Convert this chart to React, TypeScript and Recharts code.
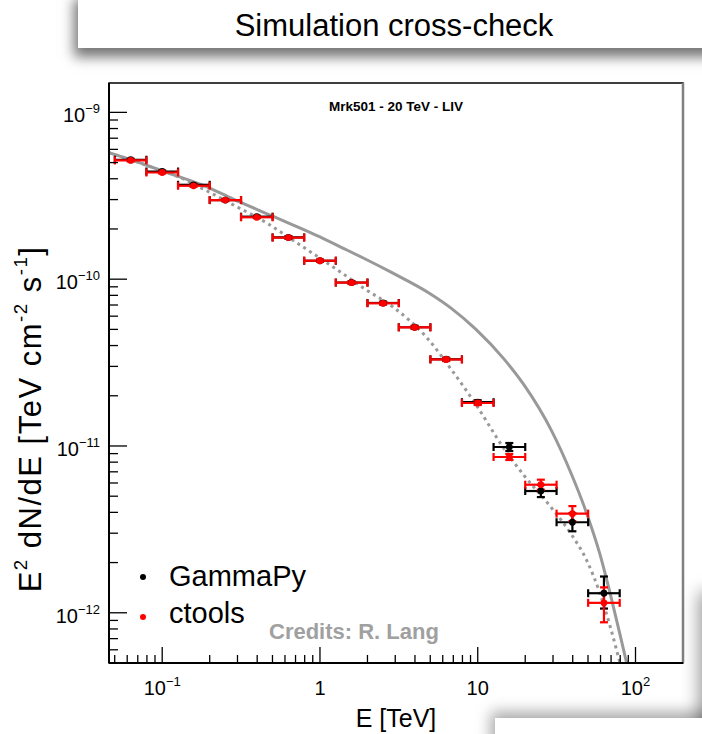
import React from 'react';
import {
  ComposedChart,
  XAxis,
  YAxis,
  Line,
  Scatter,
  ErrorBar,
  ReferenceArea,
  ReferenceLine,
} from 'recharts';

const FONT = '"Liberation Sans", Arial, Helvetica, sans-serif';

// energy bins (TeV): centres and edges
const energy = [0.0631, 0.1, 0.158, 0.251, 0.398, 0.631, 1.0, 1.585, 2.512, 3.981, 6.31, 10.0, 15.85, 25.12, 39.81, 63.1];
const binEdges = [0.0501, 0.0794, 0.126, 0.2, 0.316, 0.501, 0.794, 1.26, 2.0, 3.16, 5.01, 7.94, 12.6, 20.0, 31.6, 50.1, 79.4];

// GammaPy flux points (E^2 dN/dE) with lower / upper error ends
const gpFlux = [5.2e-10, 4.42e-10, 3.68e-10, 2.98e-10, 2.37e-10, 1.78e-10, 1.29e-10, 9.55e-11, 7.2e-11, 5.15e-11, 3.31e-11, 1.83e-11, 9.86e-12, 5.37e-12, 3.49e-12, 1.31e-12];
const gpLo = [5.13e-10, 4.36e-10, 3.63e-10, 2.94e-10, 2.34e-10, 1.75e-10, 1.27e-10, 9.4e-11, 7.07e-11, 5.05e-11, 3.24e-11, 1.78e-11, 9.33e-12, 4.94e-12, 3.08e-12, 1.06e-12];
const gpHi = [5.27e-10, 4.48e-10, 3.73e-10, 3.02e-10, 2.4e-10, 1.81e-10, 1.31e-10, 9.7e-11, 7.33e-11, 5.25e-11, 3.38e-11, 1.88e-11, 1.042e-11, 5.84e-12, 3.95e-12, 1.65e-12];

// ctools flux points
const ctFlux = [5.15e-10, 4.36e-10, 3.63e-10, 2.98e-10, 2.35e-10, 1.775e-10, 1.29e-10, 9.53e-11, 7.17e-11, 5.14e-11, 3.3e-11, 1.81e-11, 8.59e-12, 5.86e-12, 3.93e-12, 1.147e-12];
const ctLo = [5.08e-10, 4.3e-10, 3.58e-10, 2.94e-10, 2.32e-10, 1.75e-10, 1.27e-10, 9.38e-11, 7.04e-11, 5.04e-11, 3.23e-11, 1.76e-11, 8.24e-12, 5.47e-12, 3.54e-12, 8.77e-13];
const ctHi = [5.22e-10, 4.42e-10, 3.68e-10, 3.02e-10, 2.38e-10, 1.8e-10, 1.31e-10, 9.68e-11, 7.3e-11, 5.24e-11, 3.37e-11, 1.86e-11, 8.95e-12, 6.28e-12, 4.36e-12, 1.42e-12];

// model curves: solid (no LIV) and dotted (LIV)
const solidE = [0.046, 0.065, 0.093, 0.14, 0.19, 0.28, 0.47, 0.66, 0.95, 1.43, 1.91, 2.88, 4.82, 6.77, 9.71, 14.6, 19.6, 29.4, 39.4, 49.3, 59.3, 69.3, 79.3, 87.9];
const solidF = [5.73e-10, 5.15e-10, 4.57e-10, 3.99e-10, 3.59e-10, 3.03e-10, 2.45e-10, 2.13e-10, 1.83e-10, 1.52e-10, 1.33e-10, 1.09e-10, 8.35e-11, 6.71e-11, 5.02e-11, 3.34e-11, 2.33e-11, 1.232e-11, 6.72e-12, 3.89e-12, 2.27e-12, 1.29e-12, 7.57e-13, 5.0e-13];
const dottedE = [0.046, 0.065, 0.093, 0.14, 0.19, 0.28, 0.47, 0.66, 0.95, 1.43, 1.91, 2.88, 4.82, 6.77, 9.71, 14.6, 19.6, 29.4, 39.4, 49.3, 59.3, 69.3, 79.7];
const dottedF = [5.73e-10, 5.15e-10, 4.57e-10, 3.94e-10, 3.4e-10, 2.8e-10, 2.145e-10, 1.734e-10, 1.38e-10, 1.063e-10, 8.78e-11, 6.85e-11, 4.4e-11, 2.89e-11, 1.78e-11, 9.7e-12, 6.68e-12, 4.25e-12, 2.93e-12, 2.04e-12, 1.32e-12, 8.19e-13, 5.0e-13];

// axes
const xDomain = [0.046, 200];
const yDomain = [5e-13, 1.5e-9];
const mantissas = [1, 2, 3, 4, 5, 6, 7, 8, 9];
const xDecades = [0.01, 0.1, 1, 10, 100];
const yDecades = [1e-13, 1e-12, 1e-11, 1e-10, 1e-9];
const xMajor = [0.1, 1, 10, 100];
const xMajorLabels = [['10', '\u22121'], ['1', ''], ['10', ''], ['10', '2']];
const yMajor = [1e-12, 1e-11, 1e-10, 1e-9];
const yMajorLabels = [['10', '\u221212'], ['10', '\u221211'], ['10', '\u221210'], ['10', '\u22129']];

const inside = (v: number, d: number[]) => v > d[0] * 1.001 && v < d[1] * 0.999;
const xTicks = xDecades.flatMap(d => mantissas.map(m => m * d)).filter(v => inside(v, xDomain));
const yTicks = yDecades.flatMap(d => mantissas.map(m => m * d)).filter(v => inside(v, yDomain));

const findMajor = (list: number[], v: number) => list.findIndex(m => Math.abs(m - v) / m < 1e-6);

const gammapyData = energy.map((e, i) => ({
  e,
  f: gpFlux[i],
  xErr: [e - binEdges[i], binEdges[i + 1] - e],
  yErr: [gpFlux[i] - gpLo[i], gpHi[i] - gpFlux[i]],
}));
const ctoolsData = energy.map((e, i) => ({
  e,
  f: ctFlux[i],
  xErr: [e - binEdges[i], binEdges[i + 1] - e],
  yErr: [ctFlux[i] - ctLo[i], ctHi[i] - ctFlux[i]],
}));
const solidCurve = solidE.map((e, i) => ({ e, f: solidF[i] }));
const dottedCurve = dottedE.map((e, i) => ({ e, f: dottedF[i] }));

const renderXTick = (p: any) => {
  const { x, y, payload } = p;
  const idx = findMajor(xMajor, payload.value);
  const len = idx >= 0 ? 16 : 8;
  return (
    <g>
      <line x1={x} x2={x} y1={y} y2={y - len} stroke="#000" strokeWidth={1.3} />
      {idx >= 0 && (
        <text x={x} y={y + 32} textAnchor="middle" fontSize={20} fontFamily={FONT} fill="#000">
          {xMajorLabels[idx][0]}
          {xMajorLabels[idx][1] && (
            <tspan dy={-9} fontSize={13}>{xMajorLabels[idx][1]}</tspan>
          )}
        </text>
      )}
    </g>
  );
};

const renderYTick = (p: any) => {
  const { x, y, payload } = p;
  const idx = findMajor(yMajor, payload.value);
  const len = idx >= 0 ? 18 : 9;
  return (
    <g>
      <line x1={x} x2={x + len} y1={y} y2={y} stroke="#000" strokeWidth={1.3} />
      {idx >= 0 && (
        <text x={x - 9} y={y + 10} textAnchor="end" fontSize={20} fontFamily={FONT} fill="#000">
          {yMajorLabels[idx][0]}
          <tspan dy={-9} fontSize={13}>{yMajorLabels[idx][1]}</tspan>
        </text>
      )}
    </g>
  );
};

const dotShape = (color: string) => (p: any) => (
  <circle cx={p.cx} cy={p.cy} r={3.4} fill={color} />
);

const abs = (o: React.CSSProperties): React.CSSProperties => ({ position: 'absolute', ...o });
const supStyle: React.CSSProperties = { fontSize: '0.6em', verticalAlign: '0.75em', lineHeight: 0 };

export default function App() {
  return (
    <div style={abs({ left: 0, top: 0, width: 702, height: 734, overflow: 'hidden', background: '#fff', fontFamily: FONT })}>
      {/* slide banner */}
      <div style={abs({ left: 78, top: -10, width: 660, height: 58, background: '#fff', boxShadow: '-4px 9px 12px rgba(0,0,0,0.55)' })} />
      <div style={abs({ left: 0, top: 10, width: 788, fontSize: 31, lineHeight: '31px', textAlign: 'center', color: '#000' })}>
        Simulation cross-check
      </div>

      <div style={abs({ left: 0, top: 0 })}>
        <ComposedChart width={702} height={734} margin={{ top: 83, right: 19, bottom: 0, left: 0 }}>
          <XAxis
            dataKey="e"
            type="number"
            scale="log"
            domain={xDomain}
            allowDataOverflow
            ticks={xTicks}
            interval={0}
            tick={renderXTick}
            tickLine={false}
            tickSize={0}
            tickMargin={0}
            axisLine={{ stroke: '#000', strokeWidth: 2 }}
            height={71}
          />
          <YAxis
            dataKey="f"
            type="number"
            scale="log"
            domain={yDomain}
            allowDataOverflow
            ticks={yTicks}
            interval={0}
            tick={renderYTick}
            tickLine={false}
            tickSize={0}
            tickMargin={0}
            axisLine={{ stroke: '#000', strokeWidth: 2 }}
            width={109}
          />
          <ReferenceArea x1={xDomain[0]} x2={xDomain[1]} y1={yDomain[0]} y2={yDomain[1]} fill="none" stroke="#000" strokeWidth={1.5} />
          <ReferenceLine x={xDomain[1]} stroke="#808080" strokeWidth={2.5} />
          <Line data={solidCurve} dataKey="f" type="monotone" stroke="#999" strokeWidth={3} dot={false} isAnimationActive={false} />
          <Line data={dottedCurve} dataKey="f" type="monotone" stroke="#999" strokeWidth={3} strokeDasharray="3 4" dot={false} isAnimationActive={false} />
          <Scatter data={gammapyData} dataKey="f" fill="#000" shape={dotShape('#000')} isAnimationActive={false}>
            <ErrorBar dataKey="xErr" direction="x" width={4} stroke="#000" strokeWidth={2.2} />
            <ErrorBar dataKey="yErr" direction="y" width={4} stroke="#000" strokeWidth={2.2} />
          </Scatter>
          <Scatter data={ctoolsData} dataKey="f" fill="#f00" shape={dotShape('#f00')} isAnimationActive={false}>
            <ErrorBar dataKey="xErr" direction="x" width={4} stroke="#f00" strokeWidth={2.2} />
            <ErrorBar dataKey="yErr" direction="y" width={4} stroke="#f00" strokeWidth={2.2} />
          </Scatter>
        </ComposedChart>
      </div>

      {/* texts inside the frame */}
      <div style={abs({ left: 296, top: 100, width: 200, textAlign: 'center', fontSize: 13.5, lineHeight: '14px', fontWeight: 'bold' })}>
        Mrk501 - 20 TeV - LIV
      </div>
      <div style={abs({ left: 269, top: 621, fontSize: 22, lineHeight: '22px', fontWeight: 'bold', color: '#a0a0a0' })}>
        Credits: R. Lang
      </div>

      {/* legend */}
      <div style={abs({ left: 140, top: 574, width: 6, height: 6, borderRadius: '50%', background: '#000' })} />
      <div style={abs({ left: 169, top: 562, fontSize: 29, lineHeight: '29px' })}>GammaPy</div>
      <div style={abs({ left: 140, top: 614, width: 6, height: 6, borderRadius: '50%', background: '#f00' })} />
      <div style={abs({ left: 169, top: 599, fontSize: 29, lineHeight: '29px' })}>ctools</div>

      {/* axis titles */}
      <div style={abs({ left: 396, top: 706, transform: 'translateX(-50%)', fontSize: 25, lineHeight: '25px', whiteSpace: 'nowrap' })}>
        E [TeV]
      </div>
      <div
        style={abs({
          left: 30,
          top: 419,
          transform: 'translate(-50%, -50%) rotate(-90deg)',
          fontSize: 31,
          lineHeight: '31px',
          letterSpacing: 1.5,
          whiteSpace: 'nowrap',
        })}
      >
        E<sup style={supStyle}>2</sup> dN/dE [TeV cm<sup style={supStyle}>-2</sup> s<sup style={supStyle}>-1</sup>]
      </div>

      {/* neighbouring slide elements */}
      <div style={abs({ left: 705, top: 598, width: 80, height: 200, background: '#fff', boxShadow: '0 0 16px 6px rgba(0,0,0,0.4)' })} />
      <div style={abs({ left: 495, top: 718, width: 260, height: 60, background: '#fff', boxShadow: '-4px -6px 14px rgba(0,0,0,0.35)' })} />
    </div>
  );
}
